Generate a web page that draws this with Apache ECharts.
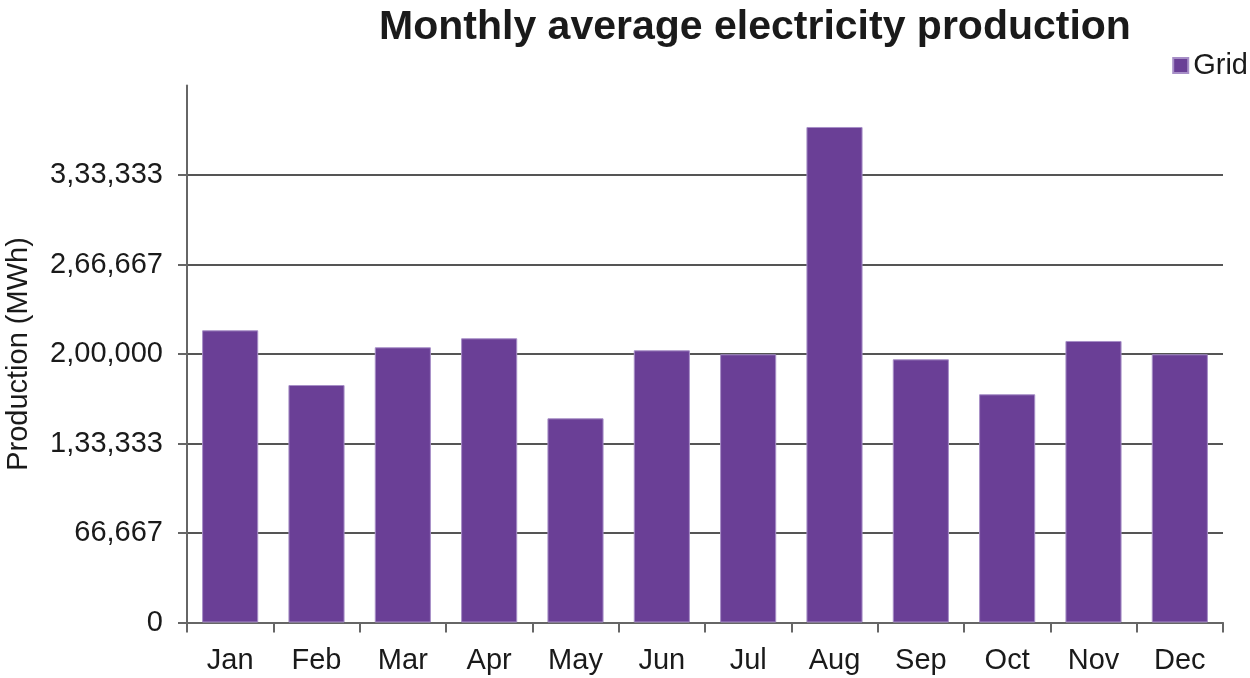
<!DOCTYPE html>
<html>
<head>
<meta charset="utf-8">
<script src="https://cdn.jsdelivr.net/npm/echarts@6/dist/echarts.min.js"></script>
<style>html,body{margin:0;padding:0;background:#fff;}#c{width:1250px;height:678px;}</style>
</head>
<body>
<div id="c"></div>
<script>
var months = ['Jan','Feb','Mar','Apr','May','Jun','Jul','Aug','Sep','Oct','Nov','Dec'];
var gridValues = [217650, 176900, 205000, 211700, 152100, 202750, 199800, 369100, 196050, 170000, 209700, 199800];
var yTicks = [0, 66666.67, 133333.33, 200000, 266666.67, 333333.33];
var yMax = 400000;
var step = 400000 / 6;

function indianFormat(v) {
  var s = String(Math.round(v));
  if (s.length <= 3) return s;
  var last3 = s.slice(-3);
  var rest = s.slice(0, -3);
  rest = rest.replace(/\B(?=(\d{2})+(?!\d))/g, ',');
  return rest + ',' + last3;
}

var chart = echarts.init(document.getElementById('c'), null, {renderer: 'canvas'});
var font = 'Liberation Sans, Arial, Helvetica, sans-serif';
chart.setOption({
  backgroundColor: '#fff',
  animation: false,
  title: {
    text: 'Monthly average electricity production',
    left: 750, top: 2, textAlign: 'center',
    textStyle: {fontFamily: font, fontSize: 41, fontWeight: 'bold', color: '#1a1a1a'}
  },
  legend: {
    right: 2, top: 51, padding: 0,
    itemWidth: 15, itemHeight: 15,
    icon: 'rect',
    itemGap: 8,
    textStyle: {fontFamily: font, fontSize: 29, color: '#1a1a1a'},
    data: ['Grid']
  },
  grid: {left: 187, right: 27, top: 85.5, bottom: 55.5, containLabel: false, outerBoundsMode: 'none'},
  xAxis: {
    type: 'category',
    data: months,
    boundaryGap: true,
    axisLine: {show: true, lineStyle: {color: '#666', width: 2}},
    axisTick: {show: true, alignWithLabel: false, length: 10, lineStyle: {color: '#666', width: 2}},
    axisLabel: {fontFamily: font, fontSize: 29, color: '#1a1a1a', margin: 24},
    splitLine: {show: false}
  },
  yAxis: {
    type: 'value',
    min: 0, max: yMax, interval: step,
    name: 'Production (MWh)',
    nameLocation: 'middle',
    nameGap: 154,
    nameTextStyle: {fontFamily: font, fontSize: 29, color: '#1a1a1a'},
    axisLine: {show: true, lineStyle: {color: '#666', width: 2}},
    axisTick: {show: true, length: 9, lineStyle: {color: '#666', width: 2}, customValues: yTicks},
    axisLabel: {
      fontFamily: font, fontSize: 29, color: '#1a1a1a', margin: 24,
      customValues: yTicks,
      formatter: function (v) { return indianFormat(v); }
    },
    splitLine: {show: true, lineStyle: {color: ['#555','#555','#555','#555','#555','#555','rgba(0,0,0,0)'], width: 2}}
  },
  series: [{
    name: 'Grid',
    type: 'bar',
    data: gridValues,
    barCategoryGap: '35%',
    itemStyle: {color: '#6a3f96', borderColor: '#a78fc7', borderWidth: 1}
  }]
});
</script>
</body>
</html>
